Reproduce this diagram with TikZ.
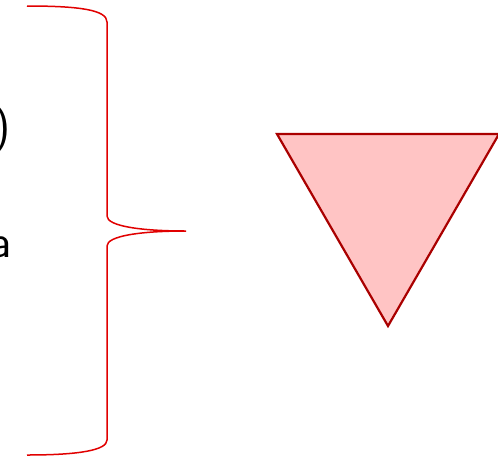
\documentclass[tikz,border=0pt]{standalone}
\definecolor{tribord}{RGB}{170,0,0}
\definecolor{trifill}{RGB}{255,196,196}
\definecolor{bracered}{RGB}{225,0,0}
\begin{document}
\begin{tikzpicture}[x=1pt,y=-1pt,
  bracestyle/.style={draw=bracered,line width=1.5pt},
  tristyle/.style={draw=tribord,fill=trifill,line width=2.2pt,line join=miter},
  txt/.style={inner sep=0pt,font=\sffamily\fontsize{47}{56}\selectfont}]
\useasboundingbox (0,0) rectangle (498,456);
% clipped text
\node[txt,anchor=base east] (t1) at (11,141) {)};
\node[txt,anchor=base east] (t2) at (11.5,257.5) {a};
% brace
\coordinate (btop) at (27,6);
\coordinate (btip) at (186,231);
\coordinate (bbot) at (27,455);
\draw[bracestyle] (btop) .. controls (80,6) and (107,10) .. (107,22)
  -- (107,216) .. controls (107,226) and (140,231) .. (btip)
  .. controls (140,231) and (107,236) .. (107,246)
  -- (107,440) .. controls (107,450) and (80,455) .. (bbot);
% triangle
\coordinate (ta) at (277,134);
\coordinate (tb) at (499,134);
\coordinate (tc) at (388,326);
\draw[tristyle] (ta) -- (tb) -- (tc) -- cycle;
\end{tikzpicture}
\end{document}
